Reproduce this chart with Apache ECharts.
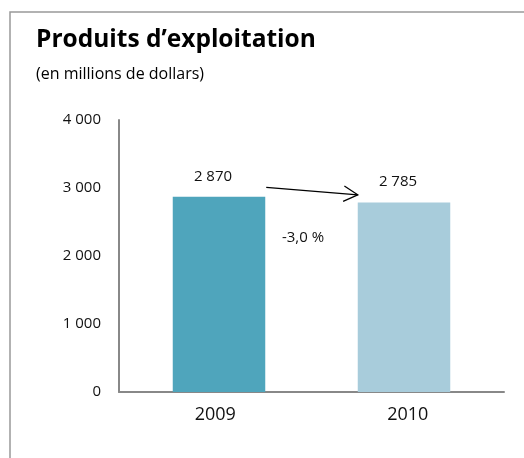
<!DOCTYPE html>
<html><head><meta charset="utf-8">
<script src="https://cdn.jsdelivr.net/npm/echarts@6/dist/echarts.min.js"></script>
<style>html,body{margin:0;padding:0;background:#fff}#c{width:524px;height:458px}</style>
</head><body><div id="c"></div>
<script>
const categories = ['2009', '2010'];
const values = [2870, 2785];
const barColors = ['#4FA5BC', '#A8CCDB'];
const yTicks = [0, 1000, 2000, 3000, 4000];
const changeLabel = '-3,0 %';
const titleText = 'Produits d\u2019exploitation';
const subtitleText = '(en millions de dollars)';

const fmt = v => String(v).replace(/\B(?=(\d{3})+(?!\d))/g, ' ');
const chart = echarts.init(document.getElementById('c'), null, {renderer: 'canvas'});
const font = 'Open Sans';
const yMin = yTicks[0], yMax = yTicks[yTicks.length - 1];
const option = {
  animation: false,
  backgroundColor: '#fff',
  textStyle: {fontFamily: font},
  grid: [
    {left: 119, right: 20, top: 120, bottom: 66, containLabel: false},
    {left: 126.5, right: 27.5, top: 120, bottom: 66, containLabel: false}
  ],
  xAxis: [{
    gridIndex: 0, type: 'category', data: categories,
    axisLine: {lineStyle: {color: '#888', width: 2}},
    axisTick: {show: false},
    axisLabel: {color: '#111', fontSize: 18, fontFamily: font, margin: 14}
  }, {
    gridIndex: 1, type: 'category', data: categories, show: false
  }],
  yAxis: [{
    gridIndex: 0, type: 'value', min: yMin, max: yMax, interval: 1000,
    axisLine: {show: true, lineStyle: {color: '#888', width: 2}},
    axisTick: {show: false},
    splitLine: {show: false},
    axisLabel: {color: '#111', fontSize: 15, fontFamily: font, margin: 18, formatter: v => fmt(v)}
  }, {
    gridIndex: 1, type: 'value', min: yMin, max: yMax, interval: 1000, show: false, splitLine: {show: false}
  }],
  series: [{
    type: 'bar', xAxisIndex: 1, yAxisIndex: 1, barWidth: '50%',
    data: values.map((v, i) => ({value: v, itemStyle: {color: barColors[i]}})),
    label: {show: true, position: 'top', distance: 13, offset: [-6, 0], color: '#111', fontSize: 15, fontFamily: font, formatter: p => fmt(p.value)}
  }],
  graphic: []
};
chart.setOption(option);

// annotations positioned via the axes
const p0 = chart.convertToPixel({seriesIndex: 0}, [0, values[0]]);
const p1 = chart.convertToPixel({seriesIndex: 0}, [1, values[1]]);
const halfBar = (p1[0] - p0[0]) * 0.5 / 2;
const ya = chart.convertToPixel({seriesIndex: 0}, [0, 3010])[1];
const yb = chart.convertToPixel({seriesIndex: 0}, [0, 2900])[1];
const x0 = p0[0] + halfBar + 1, x1 = p1[0] - halfBar;
const ang = Math.atan2(yb - ya, x1 - x0);
const hl = 16, ha = 0.5;
const ymid = chart.convertToPixel({seriesIndex: 0}, [0, 2270])[1];
chart.setOption({graphic: [
  {type: 'rect', shape: {x: 10, y: 12, width: 540, height: 480}, style: {fill: null, stroke: '#999', lineWidth: 1.5}, silent: true},
  {type: 'text', left: 36, top: 28, style: {text: titleText, font: 'bold 24.5px "Open Sans"', fill: '#000'}},
  {type: 'text', left: 36, top: 66, style: {text: subtitleText, font: '16px "Open Sans"', fill: '#000'}},
  {type: 'line', shape: {x1: x0, y1: ya, x2: x1, y2: yb}, style: {stroke: '#000', lineWidth: 1.3}},
  {type: 'polyline', shape: {points: [
    [x1 - hl * Math.cos(ang - ha), yb - hl * Math.sin(ang - ha)],
    [x1, yb],
    [x1 - hl * Math.cos(ang + ha), yb - hl * Math.sin(ang + ha)]
  ]}, style: {stroke: '#000', lineWidth: 1.3, fill: null}},
  {type: 'text', x: (x0 + x1) / 2 - 9, y: ymid, style: {text: changeLabel, font: '15px "Open Sans"', fill: '#111', textAlign: 'center', textVerticalAlign: 'middle'}}
]});
</script></body></html>
